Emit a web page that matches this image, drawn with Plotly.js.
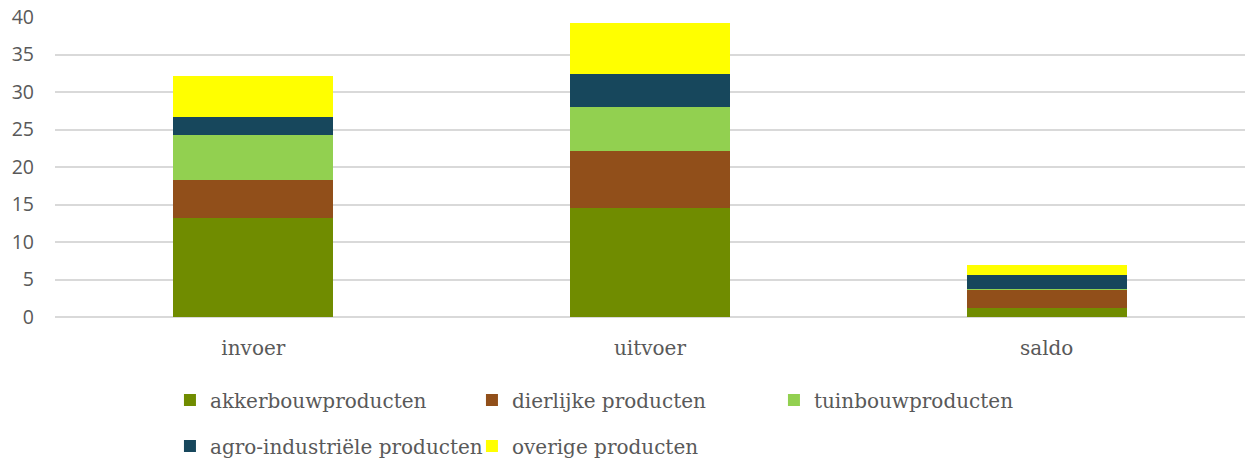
<!DOCTYPE html>
<html>
<head>
<meta charset="utf-8">
<script src="https://cdn.plot.ly/plotly-3.0.1.min.js"></script>
<style>html,body{margin:0;padding:0;background:#fff;}#chart{width:1245px;height:459px;}</style>
</head>
<body>
<div id="chart"></div>
<script>
const categories = ["invoer", "uitvoer", "saldo"];
const seriesNames = ["akkerbouwproducten", "dierlijke producten", "tuinbouwproducten", "agro-industriële producten", "overige producten"];
const akkerbouw = [13.2, 14.5, 1.25];
const dierlijk = [5.1, 7.6, 2.4];
const tuinbouw = [6.0, 5.85, 0.1];
const agro = [2.4, 4.4, 1.9];
const overige = [5.45, 6.8, 1.35];
const yTicks = [0, 5, 10, 15, 20, 25, 30, 35, 40];

const colors = ["#708c00", "#914f1a", "#92d050", "#17475c", "#ffff00"];
const values = [akkerbouw, dierlijk, tuinbouw, agro, overige];
const legendOf = ["legend", "legend", "legend", "legend2", "legend2"];

const traces = values.map((v, i) => ({
  type: "bar",
  name: seriesNames[i],
  x: categories,
  y: v,
  marker: {color: colors[i], line: {width: 0}},
  legend: legendOf[i],
  hoverinfo: "y+name"
}));

const textFont = {family: "DejaVu Serif, serif", size: 20, color: "#595959"};

const layout = {
  width: 1245, height: 459,
  margin: {l: 55, r: 0, t: 17, b: 142, autoexpand: false},
  barmode: "stack",
  bargap: 0.597,
  paper_bgcolor: "#fff", plot_bgcolor: "#fff",
  showlegend: true,
  xaxis: {
    type: "category",
    showgrid: false, showline: false, zeroline: false,
    ticks: "", tickfont: textFont, ticklabelstandoff: 17
  },
  yaxis: {
    range: [0, 40], tickvals: yTicks, ticktext: yTicks.map(String),
    showgrid: true, gridcolor: "#d9d9d9", gridwidth: 1.5,
    zeroline: true, zerolinecolor: "#d9d9d9", zerolinewidth: 1.5,
    showline: false, ticks: "",
    tickfont: {family: "Open Sans, sans-serif", size: 19.5, color: "#595959"},
    ticklabelstandoff: 20,
    fixedrange: true
  },
  legend: {
    orientation: "h", x: 0.0966, y: -0.277, xanchor: "left", yanchor: "middle",
    xref: "paper", yref: "paper",
    entrywidth: 257, entrywidthmode: "pixels",
    font: textFont, bgcolor: "rgba(0,0,0,0)", traceorder: "normal"
  },
  legend2: {
    orientation: "h", x: 0.0966, y: -0.43, xanchor: "left", yanchor: "middle",
    xref: "paper", yref: "paper",
    entrywidth: 257, entrywidthmode: "pixels",
    font: textFont, bgcolor: "rgba(0,0,0,0)", traceorder: "normal"
  }
};

Plotly.newPlot("chart", traces, layout, {displayModeBar: false});
</script>
</body>
</html>
